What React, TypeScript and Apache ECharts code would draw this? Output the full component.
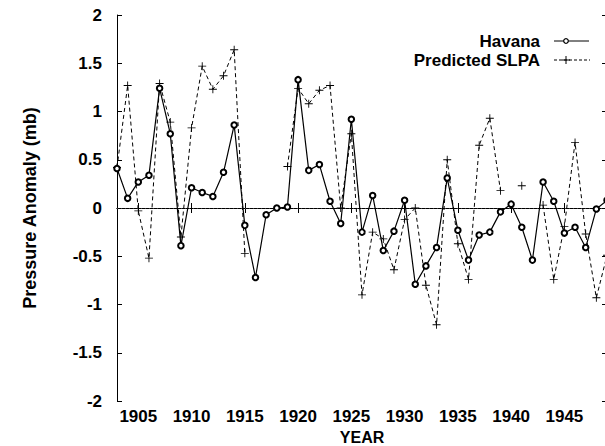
import React, { useEffect, useRef } from "react";
import * as echarts from "echarts";

const years = [
  "1903", "1904", "1905", "1906", "1907", "1908", "1909", "1910", "1911", "1912",
  "1913", "1914", "1915", "1916", "1917", "1918", "1919", "1920", "1921", "1922",
  "1923", "1924", "1925", "1926", "1927", "1928", "1929", "1930", "1931", "1932",
  "1933", "1934", "1935", "1936", "1937", "1938", "1939", "1940", "1941", "1942",
  "1943", "1944", "1945", "1946", "1947", "1948", "1949",
];

const havana = [
  0.41, 0.10, 0.27, 0.34, 1.24, 0.77, -0.39, 0.21, 0.16, 0.12,
  0.37, 0.86, -0.18, -0.72, -0.07, 0.00, 0.01, 1.33, 0.39, 0.45,
  0.07, -0.16, 0.92, -0.25, 0.13, -0.44, -0.24, 0.08, -0.79, -0.60,
  -0.41, 0.31, -0.23, -0.54, -0.28, -0.25, -0.04, 0.04, -0.20, -0.54,
  0.27, 0.07, -0.26, -0.20, -0.41, -0.01, 0.08,
];

const predicted = [
  0.42, 1.27, -0.03, -0.52, 1.29, 0.89, -0.30, 0.83, 1.47, 1.23,
  1.37, 1.64, -0.47, null, null, null, 0.43, 1.24, 1.08, 1.22,
  1.27, 0.00, 0.77, -0.90, -0.25, -0.32, -0.64, -0.12, 0.00, -0.80,
  -1.21, 0.50, -0.37, -0.74, 0.65, 0.93, 0.18, null, 0.23, null,
  0.03, -0.74, -0.19, 0.68, -0.27, -0.93, -0.49,
];

const yTicks = { min: -2, max: 2, interval: 0.5 };

const FONT = '"Liberation Sans", Arial, Helvetica, sans-serif';
const PLUS = "path://M4.45,0H5.55V4.45H10V5.55H5.55V10H4.45V5.55H0V4.45H4.45Z";

export default function App() {
  const ref = useRef<HTMLDivElement>(null);

  useEffect(() => {
    if (!ref.current) return;
    const chart = echarts.init(ref.current, null, { renderer: "svg" });
    const every5 = (_i: number, v: string) => Number(v) % 5 === 0;
    const textStyle = { fontFamily: FONT, fontWeight: "bold" as const, fontSize: 17, color: "#000" };

    chart.setOption({
      animation: false,
      backgroundColor: "#fff",
      grid: {
        left: 117,
        right: -2,
        top: 15,
        bottom: 45,
        containLabel: false,
        outerBoundsMode: "none",
      },
      xAxis: [
        {
          type: "category",
          data: years,
          boundaryGap: false,
          position: "bottom",
          name: "YEAR",
          nameLocation: "middle",
          nameGap: 23,
          nameTextStyle: { ...textStyle, fontSize: 16 },
          axisLine: { show: true, lineStyle: { color: "#000", width: 1 } },
          axisTick: { show: true, inside: true, length: 5, interval: every5, lineStyle: { color: "#000" } },
          axisLabel: { show: true, interval: every5, margin: 7, ...textStyle },
          splitLine: { show: false },
        },
        {
          type: "category",
          data: years,
          boundaryGap: false,
          position: "top",
          axisLine: { show: true, lineStyle: { color: "#000", width: 1 } },
          axisTick: { show: true, inside: true, length: 5, interval: every5, lineStyle: { color: "#000" } },
          axisLabel: { show: false },
          splitLine: { show: false },
        },
      ],
      yAxis: [
        {
          type: "value",
          min: yTicks.min,
          max: yTicks.max,
          interval: yTicks.interval,
          position: "left",
          name: "Pressure Anomaly (mb)",
          nameLocation: "middle",
          nameGap: 78,
          nameTextStyle: { ...textStyle, fontSize: 18 },
          axisLine: { show: true, lineStyle: { color: "#000", width: 1 } },
          axisTick: { show: true, inside: true, length: 5, lineStyle: { color: "#000" } },
          axisLabel: { show: true, margin: 15, ...textStyle },
          splitLine: { show: false },
        },
        {
          type: "value",
          min: yTicks.min,
          max: yTicks.max,
          interval: yTicks.interval,
          position: "right",
          axisLine: { show: true, lineStyle: { color: "#000", width: 1 } },
          axisTick: { show: true, inside: true, length: 5, lineStyle: { color: "#000" } },
          axisLabel: { show: false },
          splitLine: { show: false },
        },
      ],
      series: [
        {
          name: "Havana",
          type: "line",
          data: havana,
          xAxisIndex: 0,
          yAxisIndex: 0,
          symbol: "emptyCircle",
          symbolSize: 5.5,
          showSymbol: true,
          showAllSymbol: true,
          connectNulls: false,
          z: 3,
          lineStyle: { color: "#000", width: 1.2, type: "solid" },
          itemStyle: { color: "#000", borderColor: "#000", borderWidth: 1.2 },
          markLine: {
            silent: true,
            symbol: "none",
            label: { show: false },
            lineStyle: { color: "#555", width: 0.7, type: [1, 3] },
            data: [{ yAxis: 0 }],
            z: 1,
          },
        },
        {
          name: "Predicted SLPA",
          type: "line",
          data: predicted,
          xAxisIndex: 0,
          yAxisIndex: 0,
          symbol: PLUS,
          symbolSize: 8,
          showSymbol: true,
          showAllSymbol: true,
          connectNulls: false,
          z: 2,
          lineStyle: { color: "#000", width: 1, type: [4, 3] },
          itemStyle: { color: "#000" },
        },
      ],
      graphic: [
        {
          type: "text",
          x: 540,
          y: 41,
          style: {
            text: "Havana",
            fill: "#000",
            font: `bold 17px ${FONT}`,
            align: "right",
            verticalAlign: "middle",
            textAlign: "right",
            textVerticalAlign: "middle",
          },
        },
        {
          type: "text",
          x: 540,
          y: 60,
          style: {
            text: "Predicted SLPA",
            fill: "#000",
            font: `bold 17px ${FONT}`,
            align: "right",
            verticalAlign: "middle",
            textAlign: "right",
            textVerticalAlign: "middle",
          },
        },
        {
          type: "line",
          shape: { x1: 554, y1: 41, x2: 589, y2: 41 },
          style: { stroke: "#000", lineWidth: 1 },
        },
        {
          type: "circle",
          shape: { cx: 566, cy: 41, r: 2.3 },
          style: { fill: "#fff", stroke: "#000", lineWidth: 1.2 },
        },
        {
          type: "line",
          shape: { x1: 554, y1: 60, x2: 590, y2: 60 },
          style: { stroke: "#000", lineWidth: 1, lineDash: [3, 2] },
        },
        {
          type: "line",
          shape: { x1: 562, y1: 60, x2: 570, y2: 60 },
          style: { stroke: "#000", lineWidth: 1 },
        },
        {
          type: "line",
          shape: { x1: 566, y1: 56, x2: 566, y2: 64 },
          style: { stroke: "#000", lineWidth: 1 },
        },
      ],
    });

    return () => chart.dispose();
  }, []);

  return (
    <div
      ref={ref}
      style={{ position: "fixed", left: 0, top: 0, width: 605, height: 446, background: "#fff" }}
    />
  );
}
